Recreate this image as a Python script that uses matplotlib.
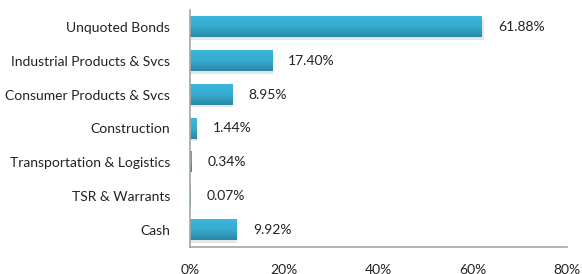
import matplotlib

matplotlib.use("Agg")

import matplotlib.pyplot as plt
import numpy as np
from matplotlib.colors import LinearSegmentedColormap
from matplotlib.patches import Rectangle

categories = [
    "Unquoted Bonds",
    "Industrial Products & Svcs",
    "Consumer Products & Svcs",
    "Construction",
    "Transportation & Logistics",
    "TSR & Warrants",
    "Cash",
]
weights = [61.88, 17.40, 8.95, 1.44, 0.34, 0.07, 9.92]
x_ticks = [0, 20, 40, 60, 80]

plt.rcParams["font.family"] = ["Lato", "DejaVu Sans"]

fig = plt.figure(figsize=(5.82, 2.74), dpi=100)
ax = fig.add_axes([0.326, 0.099, 0.648, 0.865])

n = len(categories)
ypos = np.arange(n)
height = 0.6
cmap = LinearSegmentedColormap.from_list("bar", ["#3bb6dc", "#36acd1", "#2a88a6"])
grad = np.linspace(0, 1, 64).reshape(-1, 1)

for y, v in zip(ypos, weights):
    # soft shadow
    ax.add_patch(Rectangle((0, y - height / 2 + 0.08), v * 1.01, height,
                           facecolor="#000000", alpha=0.10, edgecolor="none", zorder=1))
    ax.imshow(grad, cmap=cmap, aspect="auto", zorder=2,
              extent=[0, v, y + height / 2, y - height / 2])
    ax.text(v + 3.5, y, f"{v:.2f}%", va="center", ha="left", fontsize=10, color="#222222")

ax.set_xlim(0, 80)
ax.set_ylim(n - 0.5, -0.5)
ax.set_yticks(ypos)
ax.set_yticklabels(categories, fontsize=10, color="#222222")
ax.set_xticks(x_ticks)
ax.set_xticklabels([f"{t}%" for t in x_ticks], fontsize=10, color="#222222")
ax.tick_params(length=0)
ax.tick_params(axis="y", pad=14)
ax.tick_params(axis="x", pad=12)
for side in ["top", "right"]:
    ax.spines[side].set_visible(False)
for side in ["left", "bottom"]:
    ax.spines[side].set_color("#a6a6a6")
    ax.spines[side].set_linewidth(1.2)

fig.savefig("out.png", dpi=100)
